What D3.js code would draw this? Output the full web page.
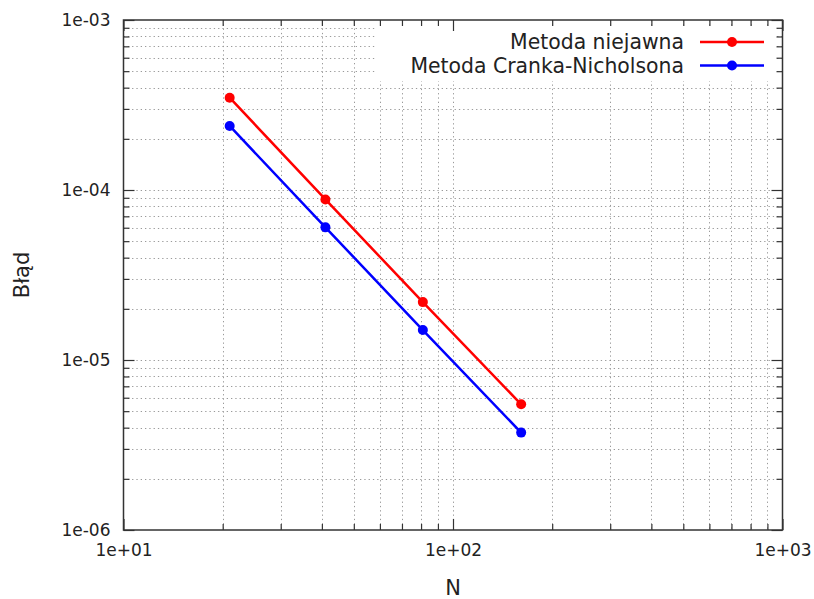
<!DOCTYPE html>
<html>
<head>
<meta charset="utf-8">
<script src="https://cdn.jsdelivr.net/npm/d3@7"></script>
<style>
  html, body { margin: 0; padding: 0; background: #fff; }
  svg { display: block; font-family: "DejaVu Sans", sans-serif; }
</style>
</head>
<body>
<svg id="chart" width="814" height="599"></svg>
<script>
// ---- data ----
const nValues = [21, 41, 81, 161];
const implicitErr = [3.49e-4, 8.8e-5, 2.19e-5, 5.49e-6];
const crankErr = [2.38e-4, 6.03e-5, 1.50e-5, 3.74e-6];
const seriesNames = ["Metoda niejawna", "Metoda Cranka-Nicholsona"];
const seriesColors = ["#ff0000", "#0000ff"];
const xMajorTicks = [10, 100, 1000];
const xTickLabels = ["1e+01", "1e+02", "1e+03"];
const yMajorTicks = [1e-6, 1e-5, 1e-4, 1e-3];
const yTickLabels = ["1e-06", "1e-05", "1e-04", "1e-03"];
const xTitle = "N";
const yTitle = "Błąd";

// ---- layout ----
const svg = d3.select("#chart");
const L = 123.5, R = 782.5, T = 20, B = 530;
const x = d3.scaleLog().domain([10, 1000]).range([L, R]);
const y = d3.scaleLog().domain([1e-6, 1e-3]).range([B, T]);

const minorOf = (majors) => {
  const out = [];
  for (let i = 0; i < majors.length - 1; i++)
    for (let k = 2; k <= 9; k++) out.push(majors[i] * k);
  return out;
};
const xMinor = minorOf(xMajorTicks);
const yMinor = minorOf(yMajorTicks);

// ---- grid ----
const grid = svg.append("g").attr("stroke", "#9a9a9a").attr("stroke-width", 1)
  .attr("stroke-dasharray", "1.3,3");
const xGridVals = xMinor.concat([100]);
const yGridVals = yMinor.concat([1e-5, 1e-4]);
grid.selectAll(".gx").data(xGridVals).join("line")
  .attr("x1", d => Math.round(x(d)) + 0.5).attr("x2", d => Math.round(x(d)) + 0.5)
  .attr("y1", T).attr("y2", B);
grid.selectAll(".gy").data(yGridVals).join("line")
  .attr("y1", d => Math.round(y(d)) + 0.5).attr("y2", d => Math.round(y(d)) + 0.5)
  .attr("x1", L).attr("x2", R);

// ---- legend background (hides grid) ----
svg.append("rect").attr("x", 377).attr("y", 27).attr("width", 398).attr("height", 54)
  .attr("fill", "#fff");

// ---- axes ----
const fmtX = d => xTickLabels[xMajorTicks.indexOf(d)];
const fmtY = d => yTickLabels[yMajorTicks.indexOf(d)];
const axisColor = "#333";
function styleAxis(g) {
  g.select(".domain").remove();
  g.selectAll(".tick line").attr("stroke", axisColor).attr("stroke-width", 1.2);
  g.selectAll(".tick text").attr("fill", "#222").style("font-size", "17px")
    .style("font-family", "'DejaVu Sans', sans-serif");
}
const major = 11, minor = 6;
svg.append("g").attr("transform", `translate(0,${B})`)
  .call(d3.axisBottom(x).tickValues(xMajorTicks).tickSize(-major).tickPadding(14).tickFormat(fmtX))
  .call(styleAxis);
svg.append("g").attr("transform", `translate(0,${B})`)
  .call(d3.axisBottom(x).tickValues(xMinor).tickSize(-minor).tickFormat(""))
  .call(styleAxis);
svg.append("g").attr("transform", `translate(0,${T})`)
  .call(d3.axisTop(x).tickValues(xMajorTicks).tickSize(-major).tickFormat(""))
  .call(styleAxis);
svg.append("g").attr("transform", `translate(0,${T})`)
  .call(d3.axisTop(x).tickValues(xMinor).tickSize(-minor).tickFormat(""))
  .call(styleAxis);
svg.append("g").attr("transform", `translate(${L},0)`)
  .call(d3.axisLeft(y).tickValues(yMajorTicks).tickSize(-major).tickPadding(13).tickFormat(fmtY))
  .call(styleAxis);
svg.append("g").attr("transform", `translate(${L},0)`)
  .call(d3.axisLeft(y).tickValues(yMinor).tickSize(-minor).tickFormat(""))
  .call(styleAxis);
svg.append("g").attr("transform", `translate(${R},0)`)
  .call(d3.axisRight(y).tickValues(yMajorTicks).tickSize(-major).tickFormat(""))
  .call(styleAxis);
svg.append("g").attr("transform", `translate(${R},0)`)
  .call(d3.axisRight(y).tickValues(yMinor).tickSize(-minor).tickFormat(""))
  .call(styleAxis);

// border
svg.append("rect").attr("x", L).attr("y", T).attr("width", R - L).attr("height", B - T)
  .attr("fill", "none").attr("stroke", axisColor).attr("stroke-width", 1.5);

// ---- series ----
const series = [implicitErr, crankErr];
const line = d3.line().x((d, i) => x(nValues[i])).y(d => y(d));
series.forEach((vals, s) => {
  svg.append("path").datum(vals).attr("d", line).attr("fill", "none")
    .attr("stroke", seriesColors[s]).attr("stroke-width", 2.5);
  svg.append("g").selectAll("circle").data(vals).join("circle")
    .attr("cx", (d, i) => x(nValues[i])).attr("cy", d => y(d)).attr("r", 5)
    .attr("fill", seriesColors[s]);
});

// ---- legend ----
const legendRows = [42, 65.5];
seriesNames.forEach((name, s) => {
  const yy = legendRows[s];
  svg.append("text").attr("x", 684).attr("y", yy).attr("dy", "0.36em")
    .attr("text-anchor", "end").attr("fill", "#222").style("font-size", "20.4px").text(name);
  svg.append("line").attr("x1", 700).attr("x2", 764).attr("y1", yy).attr("y2", yy)
    .attr("stroke", seriesColors[s]).attr("stroke-width", 2.5);
  svg.append("circle").attr("cx", 732).attr("cy", yy).attr("r", 5).attr("fill", seriesColors[s]);
});

// ---- axis titles ----
svg.append("text").attr("x", (L + R) / 2).attr("y", 595).attr("text-anchor", "middle")
  .attr("fill", "#222").style("font-size", "21px").text(xTitle);
svg.append("text").attr("transform", `translate(29,${(T + B) / 2}) rotate(-90)`)
  .attr("text-anchor", "middle").attr("fill", "#222").style("font-size", "21px").text(yTitle);
</script>
</body>
</html>
